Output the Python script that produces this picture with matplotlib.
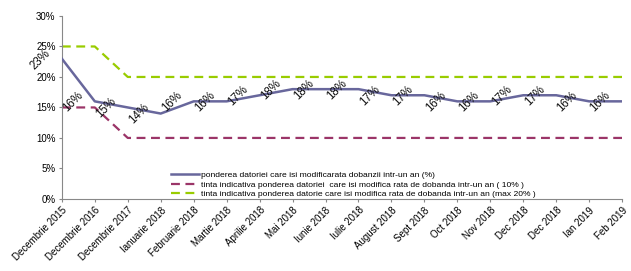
import matplotlib
matplotlib.use("Agg")
import matplotlib.pyplot as plt
from matplotlib.ticker import FuncFormatter

categories = ["Decembrie 2015", "Decembrie 2016", "Decembrie 2017", "Ianuarie 2018",
              "Februarie 2018", "Martie 2018", "Aprilie 2018", "Mai 2018", "Iunie 2018",
              "Iulie 2018", "August 2018", "Sept 2018", "Oct 2018", "Nov 2018",
              "Dec 2018", "Dec 2018", "Ian 2019", "Feb 2019"]
pondere = [23, 16, 15, 14, 16, 16, 17, 18, 18, 18, 17, 17, 16, 16, 17, 17, 16, 16]
tinta10 = [15, 15, 10, 10, 10, 10, 10, 10, 10, 10, 10, 10, 10, 10, 10, 10, 10, 10]
tinta20 = [25, 25, 20, 20, 20, 20, 20, 20, 20, 20, 20, 20, 20, 20, 20, 20, 20, 20]
labels = ["ponderea datoriei care isi modificarata dobanzii intr-un an (%)",
          "tinta indicativa ponderea datoriei  care isi modifica rata de dobanda intr-un an ( 10% )",
          "tinta indicativa ponderea datorie care isi modifica rata de dobanda intr-un an (max 20% )"]

plt.rcParams['font.family'] = ['Liberation Sans', 'DejaVu Sans']

fig = plt.figure(figsize=(6.31, 2.71), dpi=100)
ax = fig.add_axes([0.098, 0.266, 0.888, 0.675])

x = list(range(len(categories)))
ax.plot(x, pondere, color="#68679C", lw=1.8, label=labels[0], zorder=3)
ax.plot(x, tinta10, color="#9B3568", lw=1.6, ls=(0, (4, 2.5)), label=labels[1])
ax.plot(x, tinta20, color="#99CC00", lw=1.6, ls=(0, (4, 2.5)), label=labels[2])

for xi, v in zip(x, pondere):
    ax.annotate(f"{v}%", (xi, v), xytext=(-15.5, -0.5), textcoords="offset points",
                rotation=45, ha="center", va="center", fontsize=8.3, color="#111111")

ax.set_xlim(0, len(categories) - 1)
ax.set_ylim(0, 30)
ax.set_yticks(range(0, 31, 5))
ax.yaxis.set_major_formatter(FuncFormatter(lambda v, p: f"{int(v)}%"))
ax.set_xticks(x)
ax.set_xticklabels(categories, rotation=45, ha="right", rotation_mode="anchor", fontsize=7)
ax.tick_params(axis="y", labelsize=7, length=2.5, color="#888888", pad=2)
ax.tick_params(axis="x", length=2.5, color="#888888", pad=2)
for s in ["top", "right"]:
    ax.spines[s].set_visible(False)
for s in ["left", "bottom"]:
    ax.spines[s].set_color("#888888")
    ax.spines[s].set_linewidth(0.8)

ax.legend(loc="lower left", bbox_to_anchor=(0.188, -0.015), frameon=False, fontsize=6.1,
          handlelength=3.4, handletextpad=0.15, labelspacing=0.2, borderaxespad=0)

fig.savefig("out.png", dpi=100)
